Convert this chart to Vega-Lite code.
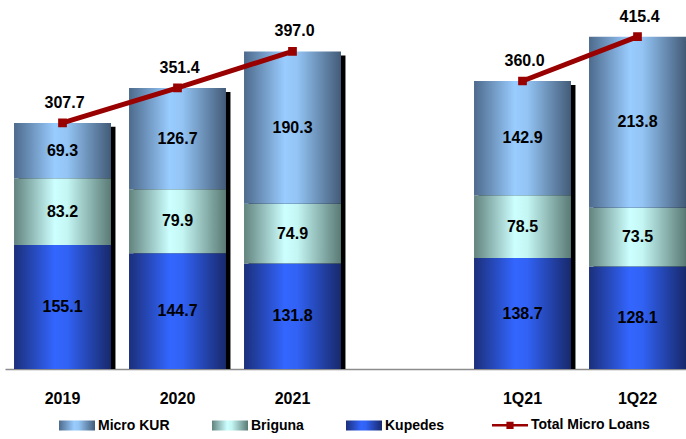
{
  "$schema": "https://vega.github.io/schema/vega-lite/v6.json",
  "width": 690,
  "height": 360,
  "autosize": {"type": "none"},
  "padding": {"left": 5, "top": 9, "right": 0, "bottom": 70},
  "background": "white",
  "config": {
    "font": "Liberation Sans",
    "view": {"stroke": null},
    "legend": {"labelFont": "Liberation Sans", "labelFontSize": 14, "labelFontWeight": "bold", "labelColor": "#000000", "padding": 0, "labelOffset": 25, "columnPadding": 42, "title": null}
  },
  "datasets": {
    "bars": [
      {"period": "2019", "series": "Kupedes", "rank": 1, "value": 155.1},
      {"period": "2019", "series": "Briguna", "rank": 2, "value": 83.2},
      {"period": "2019", "series": "Micro KUR", "rank": 3, "value": 69.3},
      {"period": "2020", "series": "Kupedes", "rank": 1, "value": 144.7},
      {"period": "2020", "series": "Briguna", "rank": 2, "value": 79.9},
      {"period": "2020", "series": "Micro KUR", "rank": 3, "value": 126.7},
      {"period": "2021", "series": "Kupedes", "rank": 1, "value": 131.8},
      {"period": "2021", "series": "Briguna", "rank": 2, "value": 74.9},
      {"period": "2021", "series": "Micro KUR", "rank": 3, "value": 190.3},
      {"period": "1Q21", "series": "Kupedes", "rank": 1, "value": 138.7},
      {"period": "1Q21", "series": "Briguna", "rank": 2, "value": 78.5},
      {"period": "1Q21", "series": "Micro KUR", "rank": 3, "value": 142.9},
      {"period": "1Q22", "series": "Kupedes", "rank": 1, "value": 128.1},
      {"period": "1Q22", "series": "Briguna", "rank": 2, "value": 73.5},
      {"period": "1Q22", "series": "Micro KUR", "rank": 3, "value": 213.8}
    ],
    "totals": [
      {"period": "2019", "total": 307.7, "group": "annual", "series": "Total Micro Loans"},
      {"period": "2020", "total": 351.4, "group": "annual", "series": "Total Micro Loans"},
      {"period": "2021", "total": 397.0, "group": "annual", "series": "Total Micro Loans"},
      {"period": "1Q21", "total": 360.0, "group": "quarter", "series": "Total Micro Loans"},
      {"period": "1Q22", "total": 415.4, "group": "quarter", "series": "Total Micro Loans"}
    ]
  },
  "encoding": {
    "x": {
      "field": "period", "type": "nominal",
      "scale": {"domain": ["2019", "2020", "2021", " ", "1Q21", "1Q22"], "paddingInner": 0.157, "paddingOuter": 0.0785},
      "axis": {"title": null, "labelAngle": 0, "ticks": false, "domainColor": "#8c8c8c", "domainWidth": 1.5, "labelFontSize": 16, "labelFontWeight": "bold", "labelColor": "#000000", "labelPadding": 21, "labelFont": "Liberation Sans"}
    }
  },
  "layer": [
    {
      "data": {"name": "totals"},
      "mark": {"type": "bar", "color": "#000000", "xOffset": 4.5, "yOffset": 4, "clip": true},
      "encoding": {
        "y": {"field": "total", "type": "quantitative", "scale": {"domain": [0, 450], "nice": false}, "axis": null}
      }
    },
    {
      "data": {"name": "bars"},
      "mark": {"type": "bar", "strokeWidth": 0, "strokeOpacity": 0},
      "encoding": {
        "y": {"field": "value", "type": "quantitative", "stack": "zero", "scale": {"domain": [0, 450], "nice": false}, "axis": null},
        "order": {"field": "rank", "type": "quantitative"},
        "fill": {
          "condition": [
            {"test": "datum.series === 'Micro KUR'", "value": {"gradient": "linear", "x1": 0, "y1": 0, "x2": 1, "y2": 0, "stops": [{"offset": 0, "color": "#4d6a8c"}, {"offset": 0.42, "color": "#99ccff"}, {"offset": 0.55, "color": "#93c4f4"}, {"offset": 1, "color": "#435b78"}]}},
            {"test": "datum.series === 'Briguna'", "value": {"gradient": "linear", "x1": 0, "y1": 0, "x2": 1, "y2": 0, "stops": [{"offset": 0, "color": "#62837e"}, {"offset": 0.42, "color": "#ccffff"}, {"offset": 0.55, "color": "#c4f6f3"}, {"offset": 1, "color": "#5a7a75"}]}}
          ],
          "value": {"gradient": "linear", "x1": 0, "y1": 0, "x2": 1, "y2": 0, "stops": [{"offset": 0, "color": "#1b2f7a"}, {"offset": 0.42, "color": "#3366ff"}, {"offset": 0.55, "color": "#3162f4"}, {"offset": 1, "color": "#18296c"}]}
        },
        "stroke": {
          "field": "series", "type": "nominal",
          "scale": {"domain": ["Micro KUR", "Briguna", "Kupedes", "Total Micro Loans"], "range": ["#99ccff", "#ccffff", "#3366ff", "#990000"]},
          "legend": {
            "orient": "none", "legendX": 54, "legendY": 409, "direction": "horizontal", "symbolSize": 1296,
            "encode": {"symbols": {"update": {
              "x": {"value": 18},
              "shape": {"signal": "datum.value === 'Total Micro Loans' ? 'M-1,0H1M-0.13,-0.13H0.13V0.13H-0.13Z' : 'M-1,-0.28H1V0.28H-1Z'"},
              "strokeWidth": {"signal": "datum.value === 'Total Micro Loans' ? 2.5 : 0"},
              "opacity": {"value": 1},
              "fillOpacity": {"value": 1},
              "fill": {"signal": "datum.value === 'Micro KUR' ? {gradient: 'linear', x1: 0, y1: 0, x2: 1, y2: 0, stops: [{offset: 0, color: '#4d6a8c'}, {offset: 0.42, color: '#99ccff'}, {offset: 0.55, color: '#93c4f4'}, {offset: 1, color: '#435b78'}]} : datum.value === 'Briguna' ? {gradient: 'linear', x1: 0, y1: 0, x2: 1, y2: 0, stops: [{offset: 0, color: '#62837e'}, {offset: 0.42, color: '#ccffff'}, {offset: 0.55, color: '#c4f6f3'}, {offset: 1, color: '#5a7a75'}]} : datum.value === 'Kupedes' ? {gradient: 'linear', x1: 0, y1: 0, x2: 1, y2: 0, stops: [{offset: 0, color: '#1b2f7a'}, {offset: 0.42, color: '#3366ff'}, {offset: 0.55, color: '#3162f4'}, {offset: 1, color: '#18296c'}]} : '#990000'"}
            }}}
          }
        }
      }
    },
    {
      "data": {"name": "bars"},
      "transform": [
        {"stack": "value", "groupby": ["period"], "sort": [{"field": "rank", "order": "ascending"}], "as": ["v0", "v1"]},
        {"calculate": "(datum.v0 + datum.v1) / 2", "as": "mid"}
      ],
      "mark": {"type": "text", "fontSize": 16, "fontWeight": "bold", "color": "#000000", "font": "Liberation Sans"},
      "encoding": {
        "y": {"field": "mid", "type": "quantitative", "scale": {"domain": [0, 450], "nice": false}, "axis": null},
        "text": {"field": "value", "type": "quantitative", "format": ".1f"}
      }
    },
    {
      "data": {"name": "totals"},
      "mark": {"type": "line", "strokeWidth": 5, "point": {"shape": "square", "size": 45, "filled": true, "fill": "#990000", "color": "#990000"}},
      "encoding": {
        "y": {"field": "total", "type": "quantitative", "scale": {"domain": [0, 450], "nice": false}, "axis": null},
        "detail": {"field": "group"},
        "stroke": {
          "field": "series", "type": "nominal",
          "scale": {"domain": ["Micro KUR", "Briguna", "Kupedes", "Total Micro Loans"], "range": ["#99ccff", "#ccffff", "#3366ff", "#990000"]},
          "legend": {
            "orient": "none", "legendX": 54, "legendY": 409, "direction": "horizontal", "symbolSize": 1296,
            "encode": {"symbols": {"update": {
              "x": {"value": 18},
              "shape": {"signal": "datum.value === 'Total Micro Loans' ? 'M-1,0H1M-0.13,-0.13H0.13V0.13H-0.13Z' : 'M-1,-0.28H1V0.28H-1Z'"},
              "strokeWidth": {"signal": "datum.value === 'Total Micro Loans' ? 2.5 : 0"},
              "opacity": {"value": 1},
              "fillOpacity": {"value": 1},
              "fill": {"signal": "datum.value === 'Micro KUR' ? {gradient: 'linear', x1: 0, y1: 0, x2: 1, y2: 0, stops: [{offset: 0, color: '#4d6a8c'}, {offset: 0.42, color: '#99ccff'}, {offset: 0.55, color: '#93c4f4'}, {offset: 1, color: '#435b78'}]} : datum.value === 'Briguna' ? {gradient: 'linear', x1: 0, y1: 0, x2: 1, y2: 0, stops: [{offset: 0, color: '#62837e'}, {offset: 0.42, color: '#ccffff'}, {offset: 0.55, color: '#c4f6f3'}, {offset: 1, color: '#5a7a75'}]} : datum.value === 'Kupedes' ? {gradient: 'linear', x1: 0, y1: 0, x2: 1, y2: 0, stops: [{offset: 0, color: '#1b2f7a'}, {offset: 0.42, color: '#3366ff'}, {offset: 0.55, color: '#3162f4'}, {offset: 1, color: '#18296c'}]} : '#990000'"}
            }}}
          }
        }
      }
    },
    {
      "data": {"name": "totals"},
      "mark": {"type": "text", "fontSize": 16, "fontWeight": "bold", "color": "#000000", "dy": -20, "dx": 2, "font": "Liberation Sans"},
      "encoding": {
        "y": {"field": "total", "type": "quantitative", "scale": {"domain": [0, 450], "nice": false}, "axis": null},
        "text": {"field": "total", "type": "quantitative", "format": ".1f"}
      }
    }
  ]
}
